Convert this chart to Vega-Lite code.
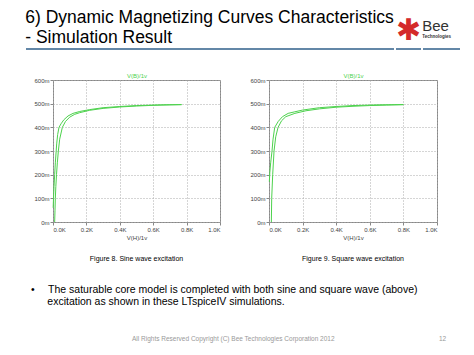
{
  "$schema": "https://vega.github.io/schema/vega-lite/v6.json",
  "padding": {"left": 25, "top": 8, "right": 0, "bottom": 0},
  "background": "white",
  "title": {
    "text": ["6) Dynamic Magnetizing Curves Characteristics", "- Simulation Result"],
    "anchor": "start", "font": "Liberation Sans", "fontSize": 17.5, "fontWeight": "normal",
    "lineHeight": 20, "color": "#000", "offset": -30
  },
  "config": {"view": {"stroke": null}, "font": "Liberation Sans"},
  "datasets": {
    "sine": [
      {"i": 0, "H": 0.010, "B": 0.000}, {"i": 1, "H": 0.012, "B": 0.050}, {"i": 2, "H": 0.014, "B": 0.100},
      {"i": 3, "H": 0.017, "B": 0.150}, {"i": 4, "H": 0.021, "B": 0.200}, {"i": 5, "H": 0.026, "B": 0.250},
      {"i": 6, "H": 0.032, "B": 0.300}, {"i": 7, "H": 0.040, "B": 0.350}, {"i": 8, "H": 0.056, "B": 0.400},
      {"i": 9, "H": 0.075, "B": 0.425}, {"i": 10, "H": 0.100, "B": 0.443}, {"i": 11, "H": 0.130, "B": 0.455},
      {"i": 12, "H": 0.160, "B": 0.462}, {"i": 13, "H": 0.220, "B": 0.472}, {"i": 14, "H": 0.300, "B": 0.480},
      {"i": 15, "H": 0.400, "B": 0.486}, {"i": 16, "H": 0.500, "B": 0.490}, {"i": 17, "H": 0.600, "B": 0.493},
      {"i": 18, "H": 0.700, "B": 0.495}, {"i": 19, "H": 0.770, "B": 0.496}, {"i": 20, "H": 0.650, "B": 0.495},
      {"i": 21, "H": 0.500, "B": 0.492}, {"i": 22, "H": 0.400, "B": 0.488}, {"i": 23, "H": 0.300, "B": 0.483},
      {"i": 24, "H": 0.220, "B": 0.475}, {"i": 25, "H": 0.160, "B": 0.467}, {"i": 26, "H": 0.120, "B": 0.459},
      {"i": 27, "H": 0.090, "B": 0.448}, {"i": 28, "H": 0.065, "B": 0.432}, {"i": 29, "H": 0.048, "B": 0.415},
      {"i": 30, "H": 0.036, "B": 0.400}, {"i": 31, "H": 0.028, "B": 0.370}, {"i": 32, "H": 0.022, "B": 0.330},
      {"i": 33, "H": 0.019, "B": 0.300}, {"i": 34, "H": 0.014, "B": 0.250}, {"i": 35, "H": 0.010, "B": 0.200},
      {"i": 36, "H": 0.006, "B": 0.150}, {"i": 37, "H": 0.003, "B": 0.100}, {"i": 38, "H": 0.001, "B": 0.060}
    ],
    "square": [
      {"i": 0, "H": 0.014, "B": 0.000}, {"i": 1, "H": 0.016, "B": 0.100}, {"i": 2, "H": 0.022, "B": 0.200},
      {"i": 3, "H": 0.030, "B": 0.300}, {"i": 4, "H": 0.040, "B": 0.360}, {"i": 5, "H": 0.054, "B": 0.400},
      {"i": 6, "H": 0.075, "B": 0.428}, {"i": 7, "H": 0.100, "B": 0.445}, {"i": 8, "H": 0.154, "B": 0.459},
      {"i": 9, "H": 0.220, "B": 0.470}, {"i": 10, "H": 0.300, "B": 0.478}, {"i": 11, "H": 0.400, "B": 0.485},
      {"i": 12, "H": 0.500, "B": 0.489}, {"i": 13, "H": 0.600, "B": 0.492}, {"i": 14, "H": 0.700, "B": 0.494},
      {"i": 15, "H": 0.800, "B": 0.496}, {"i": 16, "H": 0.650, "B": 0.495}, {"i": 17, "H": 0.500, "B": 0.492},
      {"i": 18, "H": 0.400, "B": 0.488}, {"i": 19, "H": 0.300, "B": 0.483}, {"i": 20, "H": 0.200, "B": 0.473},
      {"i": 21, "H": 0.150, "B": 0.465}, {"i": 22, "H": 0.114, "B": 0.459}, {"i": 23, "H": 0.080, "B": 0.445},
      {"i": 24, "H": 0.055, "B": 0.425}, {"i": 25, "H": 0.034, "B": 0.400}, {"i": 26, "H": 0.024, "B": 0.350},
      {"i": 27, "H": 0.018, "B": 0.300}, {"i": 28, "H": 0.010, "B": 0.250}, {"i": 29, "H": 0.005, "B": 0.210},
      {"i": 30, "H": 0.002, "B": 0.170}
    ]
  },
  "columns": 1,
  "align": "none",
  "spacing": 0,
  "concat": [
    {
      "spacing": 0,
      "hconcat": [
        {
          "width": 341, "height": 22,
          "data": {"values": [{}]},
          "mark": {"type": "rule", "color": "#2f5f8a", "strokeWidth": 1.5},
          "encoding": {
            "y": {"datum": 1, "type": "quantitative", "scale": {"domain": [0, 1]}, "axis": null},
            "x": {"datum": -0.0792, "type": "quantitative", "scale": {"domain": [0, 1]}, "axis": null},
            "x2": {"datum": 1}
          }
        },
        {
          "width": 25, "height": 22,
          "title": {"text": "✱", "orient": "top", "anchor": "middle", "fontSize": 30, "fontWeight": "normal", "color": "#d42a2a", "offset": 2},
          "data": {"values": [{}]},
          "mark": {"type": "rule", "color": "#2f5f8a", "strokeWidth": 1.5},
          "encoding": {
            "y": {"datum": 1, "type": "quantitative", "scale": {"domain": [0, 1]}, "axis": null},
            "x": {"datum": 0, "type": "quantitative", "scale": {"domain": [0, 1]}, "axis": null},
            "x2": {"datum": 1}
          }
        },
        {
          "width": 37, "height": 22,
          "title": {"text": "Bee", "orient": "top", "anchor": "start", "dx": 0, "fontSize": 15, "fontWeight": "normal", "color": "#333",
            "offset": 10, "subtitle": "Technologies", "subtitleFontSize": 4.5, "subtitleColor": "#333", "subtitleFontWeight": "bold", "subtitlePadding": 0},
          "data": {"values": [{}]},
          "mark": {"type": "rule", "color": "#2f5f8a", "strokeWidth": 1.5},
          "encoding": {
            "y": {"datum": 1, "type": "quantitative", "scale": {"domain": [0, 1]}, "axis": null},
            "x": {"datum": 0, "type": "quantitative", "scale": {"domain": [0, 1]}, "axis": null},
            "x2": {"datum": 1}
          }
        }
      ]
    },
    {
      "bounds": "flush",
      "spacing": 49,
      "hconcat": [
        {
          "width": 167, "height": 142,
          "view": {"stroke": "#888", "strokeWidth": 1},
          "title": {"text": "Figure 8. Sine wave excitation", "orient": "bottom", "fontSize": 7, "fontWeight": "normal", "color": "#000", "offset": 15},
          "data": {"name": "sine"},
          "encoding": {
            "y": {"field": "B", "type": "quantitative", "scale": {"domain": [0, 0.6], "nice": false},
              "axis": {"title": null, "values": [0, 0.1, 0.2, 0.3, 0.4, 0.5, 0.6], "labelExpr": "format(datum.value * 1000, 'd') + 'm'",
                "labelFontSize": 6, "labelColor": "#444", "tickColor": "#888", "tickSize": 3, "domain": false, "labelOverlap": false,
                "grid": true, "gridColor": "#aaa", "gridDash": [1, 2], "labelPadding": 1, "minExtent": 27, "maxExtent": 27}},
            "order": {"field": "i", "type": "quantitative"}
          },
          "layer": [
            {
              "mark": {"type": "line", "color": "#4dd24d", "strokeWidth": 1},
              "encoding": {
                "x": {"field": "H", "type": "quantitative", "scale": {"domain": [0, 1], "nice": false},
                  "axis": {"title": "V(H)/1v", "values": [0, 0.2, 0.4, 0.6, 0.8, 1], "labelExpr": "format(datum.value, '.1f') + 'K'",
                    "labelFontSize": 6, "labelColor": "#444", "titleFontSize": 6, "titleColor": "#444", "titleFontWeight": "normal",
                    "tickColor": "#888", "tickSize": 3, "domain": false, "grid": true, "gridColor": "#aaa", "gridDash": [1, 2],
                    "labelPadding": 1, "titlePadding": 2, "labelOverlap": false}}
              }
            },
            {
              "mark": {"type": "line", "opacity": 0},
              "encoding": {
                "x": {"field": "H", "type": "quantitative",
                  "axis": {"orient": "top", "title": "V(B)/1v", "titleColor": "#4dd24d", "titleFontSize": 6, "titleFontWeight": "normal",
                    "labels": false, "ticks": false, "domain": false, "grid": false, "titlePadding": 2}}
              }
            }
          ],
          "resolve": {"axis": {"x": "independent"}}
        },
        {
          "width": 168, "height": 142,
          "view": {"stroke": "#888", "strokeWidth": 1},
          "title": {"text": "Figure 9. Square wave excitation", "orient": "bottom", "fontSize": 7, "fontWeight": "normal", "color": "#000", "offset": 15},
          "data": {"name": "square"},
          "encoding": {
            "y": {"field": "B", "type": "quantitative", "scale": {"domain": [0, 0.6], "nice": false},
              "axis": {"title": null, "values": [0, 0.1, 0.2, 0.3, 0.4, 0.5, 0.6], "labelExpr": "format(datum.value * 1000, 'd') + 'm'",
                "labelFontSize": 6, "labelColor": "#444", "tickColor": "#888", "tickSize": 3, "domain": false, "labelOverlap": false,
                "grid": true, "gridColor": "#aaa", "gridDash": [1, 2], "labelPadding": 1, "minExtent": 27, "maxExtent": 27}},
            "order": {"field": "i", "type": "quantitative"}
          },
          "layer": [
            {
              "mark": {"type": "line", "color": "#4dd24d", "strokeWidth": 1},
              "encoding": {
                "x": {"field": "H", "type": "quantitative", "scale": {"domain": [0, 1], "nice": false},
                  "axis": {"title": "V(H)/1v", "values": [0, 0.2, 0.4, 0.6, 0.8, 1], "labelExpr": "format(datum.value, '.1f') + 'K'",
                    "labelFontSize": 6, "labelColor": "#444", "titleFontSize": 6, "titleColor": "#444", "titleFontWeight": "normal",
                    "tickColor": "#888", "tickSize": 3, "domain": false, "grid": true, "gridColor": "#aaa", "gridDash": [1, 2],
                    "labelPadding": 1, "titlePadding": 2, "labelOverlap": false}}
              }
            },
            {
              "mark": {"type": "line", "opacity": 0},
              "encoding": {
                "x": {"field": "H", "type": "quantitative",
                  "axis": {"orient": "top", "title": "V(B)/1v", "titleColor": "#4dd24d", "titleFontSize": 6, "titleFontWeight": "normal",
                    "labels": false, "ticks": false, "domain": false, "grid": false, "titlePadding": 2}}
              }
            }
          ],
          "resolve": {"axis": {"x": "independent"}}
        }
      ]
    },
    {
      "width": 403, "height": 22,
      "data": {"values": []},
      "mark": "point",
      "title": {
        "text": ["•\u2003\u00a0The saturable core model is completed with both sine and square wave (above)",
                 "\u200b\u2003\u00a0\u00a0excitation as shown in these LTspiceIV simulations."],
        "orient": "bottom", "anchor": "start", "fontSize": 10.5, "fontWeight": "normal", "color": "#000",
        "lineHeight": 11.5, "offset": 0, "dx": -22
      }
    },
    {
      "spacing": 0,
      "hconcat": [
        {
          "width": 386, "height": 29,
          "data": {"values": []},
          "mark": "point",
          "title": {"text": "All Rights Reserved Copyright (C) Bee Technologies Corporation 2012", "orient": "bottom", "anchor": "start",
            "dx": 79, "fontSize": 6.5, "fontWeight": "normal", "color": "#999", "offset": 0}
        },
        {
          "width": 10, "height": 29,
          "data": {"values": []},
          "mark": "point",
          "title": {"text": "12", "orient": "bottom", "anchor": "start", "fontSize": 6.5, "fontWeight": "normal", "color": "#999", "offset": 0}
        }
      ]
    }
  ]
}
